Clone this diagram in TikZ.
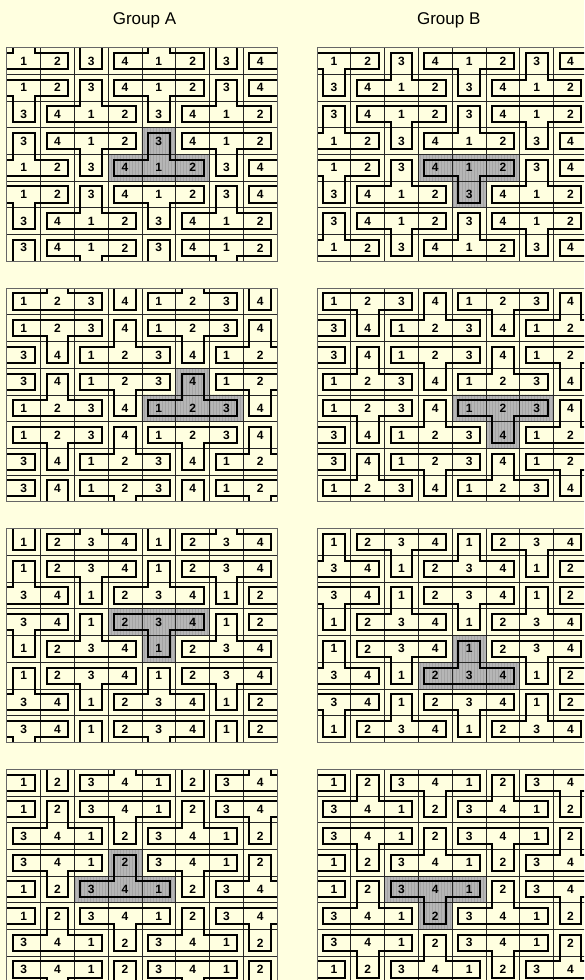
\documentclass[tikz,border=0pt]{standalone}
\usepackage{fontspec}
\setsansfont{Liberation Sans}
\usetikzlibrary{patterns}
\definecolor{paper}{HTML}{FFFFE0}
\definecolor{hilite}{HTML}{B6B6B6}
\definecolor{stripe}{HTML}{A4A4A4}
\newcommand\cellw{33.8}
\newcommand\cellh{26.7}
\newcommand\padx{6}
\newcommand\pady{5.3}

\begin{document}
\begin{tikzpicture}[x=1pt, y=-1pt,
  tile/.style={line width=2pt, line join=miter},
  cellno/.style={font=\sffamily\bfseries\fontsize{12}{12}\selectfont, inner sep=0pt},
  grp/.style={font=\sffamily\fontsize{17}{17}\selectfont, inner sep=0pt, anchor=base},
  gridline/.style={line width=0.8pt, black!85},
  frame/.style={line width=1pt, black!60},
  pics/tee/.style={code={
    \draw[tile] (-1.5*\cellw+\padx,0.5*\cellh-\pady) -- (1.5*\cellw-\padx,0.5*\cellh-\pady)
      -- (1.5*\cellw-\padx,-0.5*\cellh+\pady) -- (0.5*\cellw-\padx,-0.5*\cellh+\pady)
      -- (0.5*\cellw-\padx,-1.5*\cellh+\pady) -- (-0.5*\cellw+\padx,-1.5*\cellh+\pady)
      -- (-0.5*\cellw+\padx,-0.5*\cellh+\pady) -- (-1.5*\cellw+\padx,-0.5*\cellh+\pady) -- cycle;
  }},
  pics/teefill/.style={code={
    \path[fill=hilite, postaction={pattern=vertical lines, pattern color=stripe}]
      (-1.5*\cellw,0.5*\cellh) -- (1.5*\cellw,0.5*\cellh) -- (1.5*\cellw,-0.5*\cellh)
      -- (0.5*\cellw,-0.5*\cellh) -- (0.5*\cellw,-1.5*\cellh) -- (-0.5*\cellw,-1.5*\cellh)
      -- (-0.5*\cellw,-0.5*\cellh) -- (-1.5*\cellw,-0.5*\cellh) -- cycle;
  }},
]
\useasboundingbox (0,0) rectangle (584,980);
\clip (0,0) rectangle (584,980);
\fill[paper] (0,0) rectangle (584,980);

\node[grp] (ttlA) at (144.5,24.3) {Group A};
\node[grp] (ttlB) at (448.7,24.3) {Group B};

\foreach \g/\xo/\s/\m/\hr/\hc/\hd in {A/6.7/0/1/4/4/1, A/6.7/0/2/4/5/1, A/6.7/0/3/3/4/-1, A/6.7/0/4/4/3/1,
    B/317/1/1/4/4/-1, B/317/1/2/4/5/-1, B/317/1/3/5/4/1, B/317/1/4/4/3/-1}{
  \pgfmathsetmacro\yo{47.6+(\m-1)*240.55}
  \begin{scope}[shift={(\xo,\yo)}]
    \begin{scope}
      \clip (0,0) rectangle (8*\cellw,8*\cellh);
      \pic[shift={({(\hc+0.5)*\cellw},{(\hr+0.5)*\cellh})}, yscale=\hd] {teefill};
      \foreach \i in {1,...,7}{
        \draw[gridline] (\i*\cellw,0) -- (\i*\cellw,8*\cellh);
        \draw[gridline] (0,\i*\cellh) -- (8*\cellw,\i*\cellh);
      }
      \foreach \k in {-1,...,4}{
        \pgfmathtruncatemacro\t{2*\k+1-\s}
        \pgfmathtruncatemacro\ot{Mod(2*floor((\t+\s)/2),4)}
        \pgfmathtruncatemacro\cdown{Mod(\m-1-\ot,4)}
        \foreach \j in {-1,...,2}{
          \pic[shift={({(\cdown+4*\j+0.5)*\cellw},{(\t+0.5)*\cellh})}, yscale=-1] {tee};
          \pic[shift={({(\cdown+4*\j+2.5)*\cellw},{(\t+1.5)*\cellh})}] {tee};
        }
      }
    \end{scope}
    \foreach \r in {0,...,7}{
      \foreach \c in {0,...,7}{
        \pgfmathtruncatemacro\lab{Mod(\c+2*floor((\r+\s)/2),4)+1}
        \node[cellno] (\g\m-\r-\c) at ({(\c+0.5)*\cellw},{(\r+0.5)*\cellh}) {\lab};
      }
    }
    \draw[frame] (0,0) rectangle (8*\cellw,8*\cellh);
  \end{scope}
}
\end{tikzpicture}
\end{document}
